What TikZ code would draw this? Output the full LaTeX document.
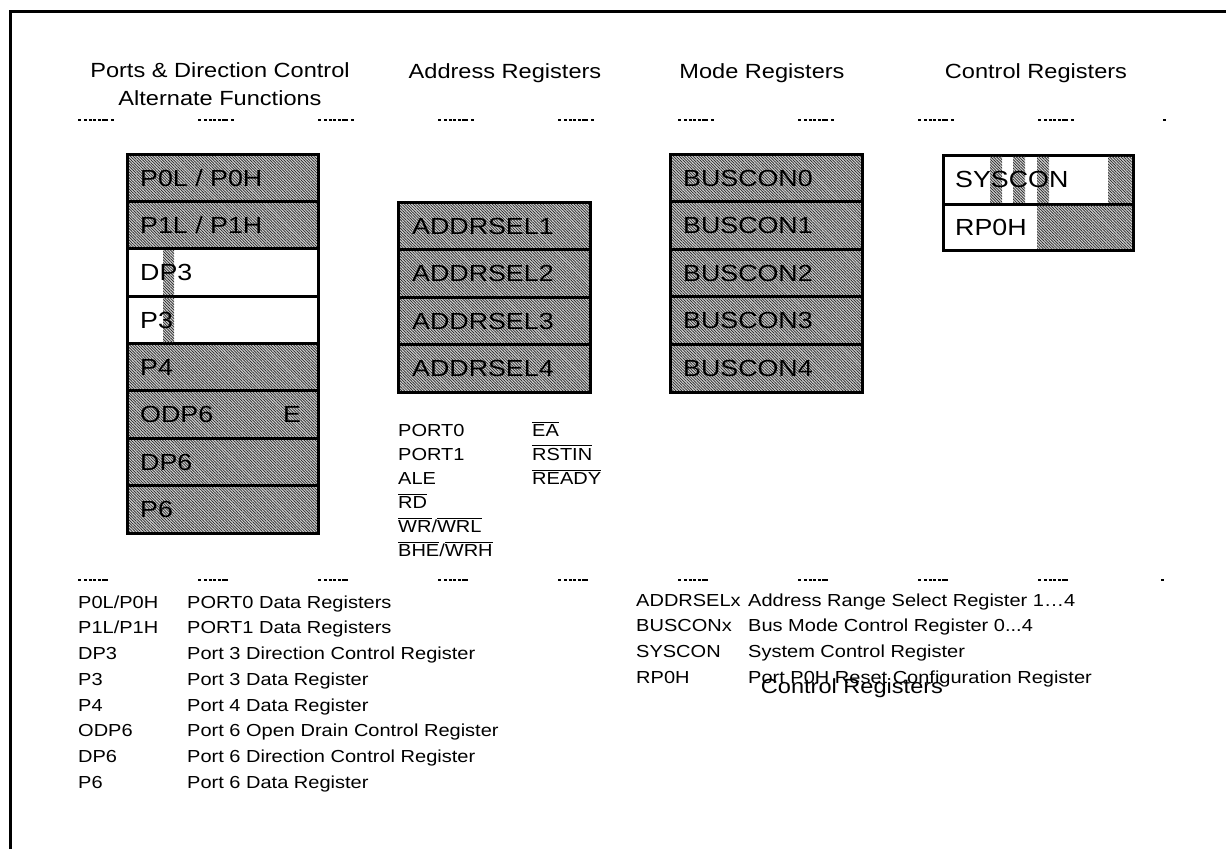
\documentclass[tikz,border=0pt]{standalone}
\usepackage{fontspec}
\setmainfont{Liberation Sans}[FakeStretch=1.15]
\usetikzlibrary{patterns.meta}
\newcommand\ovl[1]{\leavevmode\vbox{\hrule height 0.9pt\kern 1.6pt\hbox{#1}}}
\newcommand\hdfont{\fontsize{20.5pt}{24pt}\selectfont}
\newcommand\bxfont{\fontsize{23.3pt}{28pt}\selectfont}
\newcommand\lgfont{\fontsize{17.4pt}{21pt}\selectfont}
\tikzset{
  cell/.style={draw, line width=3pt, inner sep=0pt, fill=white},
  hatch/.style={preaction={fill=gray!35}, pattern={Lines[angle=-45,distance=2pt,line width=0.7pt]}, pattern color=black!85},
  hatchfill/.style={preaction={fill=gray!35}, pattern={Lines[angle=-45,distance=2pt,line width=0.7pt]}, pattern color=black!85},
  head/.style={font=\hdfont, anchor=base, inner sep=0pt},
  btxt/.style={font=\bxfont, anchor=base west, inner sep=0pt},
  ltxt/.style={font=\lgfont, anchor=base west, inner sep=0pt},
  tickmark/.style={line width=2pt, dash pattern=on 3pt off 3pt on 3pt off 1.5pt on 3pt off 1.5pt on 3pt off 1.5pt on 3pt off 1.5pt on 6pt},
}
\begin{document}
\begin{tikzpicture}[x=1pt,y=-1pt]
\useasboundingbox (0,0) rectangle (1226,849);
\fill[white] (0,0) rectangle (1226,849);
% frame
\draw[line width=3pt] (10,849) -- (10,11) -- (1226,11);

% headers
\node[head] (h1) at (220,77) {Ports \& Direction Control};
\node[head] (h1b) at (220,105) {Alternate Functions};
\node[head] (h2) at (505,78) {Address Registers};
\node[head] (h3) at (762,78) {Mode Registers};
\node[head] (h4) at (1036,78) {Control Registers};

% tick rows
\foreach \x in {78,198,318,438,558,678,798,918,1038}{
  \draw[tickmark] (\x,120) -- ++(37,0);
  \draw[tickmark] (\x,580) -- ++(30,0);
}
\draw[line width=2pt] (1163,120) -- ++(3,0);
\draw[line width=2pt] (1161,580) -- ++(3,0);

% ports stack
\node[cell, hatch, minimum width=191pt, minimum height=47.4pt] (p0) at (222.5,177.7) {};
\node[cell, hatch, minimum width=191pt, minimum height=47.4pt] (p1) at (222.5,225.1) {};
\node[cell, minimum width=191pt, minimum height=47.4pt] (dp3) at (222.5,272.4) {};
\node[cell, minimum width=191pt, minimum height=47.4pt] (p3) at (222.5,319.8) {};
\node[cell, hatch, minimum width=191pt, minimum height=47.4pt] (p4) at (222.5,367.2) {};
\node[cell, hatch, minimum width=191pt, minimum height=47.4pt] (odp6) at (222.5,414.6) {};
\node[cell, hatch, minimum width=191pt, minimum height=47.4pt] (dp6) at (222.5,461.9) {};
\node[cell, hatch, minimum width=191pt, minimum height=47.4pt] (p6) at (222.5,509.3) {};
\fill[hatchfill] (163,250.2) rectangle (174,294.6);
\fill[hatchfill] (163,297.6) rectangle (174,342);
\node[btxt] (tp0) at (140,186) {P0L / P0H};
\node[btxt] (tp1) at (140,233.4) {P1L / P1H};
\node[btxt] (tdp3) at (140,280.7) {DP3};
\node[btxt] (tp3) at (140,328.1) {P3};
\node[btxt] (tp4) at (140,375.5) {P4};
\node[btxt] (todp6) at (140,422.9) {ODP6};
\node[btxt] (te) at (283,422.9) {E};
\node[btxt] (tdp6) at (140,470.2) {DP6};
\node[btxt] (tp6) at (140,517.6) {P6};

% address registers
\node[cell, hatch, minimum width=192pt, minimum height=47.5pt] (a1) at (494,225.75) {};
\node[cell, hatch, minimum width=192pt, minimum height=47.5pt] (a2) at (494,273.25) {};
\node[cell, hatch, minimum width=192pt, minimum height=47.5pt] (a3) at (494,320.75) {};
\node[cell, hatch, minimum width=192pt, minimum height=47.5pt] (a4) at (494,368.25) {};
\node[btxt] (ta1) at (412,234) {ADDRSEL1};
\node[btxt] (ta2) at (412,281.5) {ADDRSEL2};
\node[btxt] (ta3) at (412,329) {ADDRSEL3};
\node[btxt] (ta4) at (412,376.5) {ADDRSEL4};

% pin list
\node[ltxt] (s1) at (398,436) {PORT0};
\node[ltxt] (s2) at (398,460) {PORT1};
\node[ltxt] (s3) at (398,484) {ALE};
\node[ltxt] (s4) at (398,508) {\ovl{RD}};
\node[ltxt] (s5) at (398,532) {\ovl{WR}/\ovl{WRL}};
\node[ltxt] (s6) at (398,556) {\ovl{BHE}/\ovl{WRH}};
\node[ltxt] (s7) at (532,436) {\ovl{EA}};
\node[ltxt] (s8) at (532,460) {\ovl{RSTIN}};
\node[ltxt] (s9) at (532,484) {\ovl{READY}};

% mode registers
\node[cell, hatch, minimum width=192pt, minimum height=47.6pt] (b0) at (766,177.8) {};
\node[cell, hatch, minimum width=192pt, minimum height=47.6pt] (b1) at (766,225.4) {};
\node[cell, hatch, minimum width=192pt, minimum height=47.6pt] (b2) at (766,273) {};
\node[cell, hatch, minimum width=192pt, minimum height=47.6pt] (b3) at (766,320.6) {};
\node[cell, hatch, minimum width=192pt, minimum height=47.6pt] (b4) at (766,368.2) {};
\node[btxt] (tb0) at (683,186.1) {BUSCON0};
\node[btxt] (tb1) at (683,233.7) {BUSCON1};
\node[btxt] (tb2) at (683,281.3) {BUSCON2};
\node[btxt] (tb3) at (683,328.9) {BUSCON3};
\node[btxt] (tb4) at (683,376.5) {BUSCON4};

% control registers
\node[cell, minimum width=190pt, minimum height=49pt] (sys) at (1038,179.5) {};
\node[cell, minimum width=190pt, minimum height=46pt] (rp) at (1038,227) {};
\fill[hatchfill] (990,156.5) rectangle (1002,202.5);
\fill[hatchfill] (1013,156.5) rectangle (1025,202.5);
\fill[hatchfill] (1037,156.5) rectangle (1049,202.5);
\fill[hatchfill] (1108,156.5) rectangle (1131.5,202.5);
\fill[hatchfill] (1037,205.5) rectangle (1131.5,248.5);
\node[btxt] (tsys) at (955,187.8) {SYSCON};
\node[btxt] (trp) at (955,235.3) {RP0H};

% legend left
\node[ltxt] (l1) at (78,608.2) {P0L/P0H};
\node[ltxt] (l2) at (78,633.9) {P1L/P1H};
\node[ltxt] (l3) at (78,659.6) {DP3};
\node[ltxt] (l4) at (78,685.3) {P3};
\node[ltxt] (l5) at (78,711) {P4};
\node[ltxt] (l6) at (78,736.7) {ODP6};
\node[ltxt] (l7) at (78,762.4) {DP6};
\node[ltxt] (l8) at (78,788.1) {P6};
\node[ltxt] (d1) at (187,608.2) {PORT0 Data Registers};
\node[ltxt] (d2) at (187,633.9) {PORT1 Data Registers};
\node[ltxt] (d3) at (187,659.6) {Port 3 Direction Control Register};
\node[ltxt] (d4) at (187,685.3) {Port 3 Data Register};
\node[ltxt] (d5) at (187,711) {Port 4 Data Register};
\node[ltxt] (d6) at (187,736.7) {Port 6 Open Drain Control Register};
\node[ltxt] (d7) at (187,762.4) {Port 6 Direction Control Register};
\node[ltxt] (d8) at (187,788.1) {Port 6 Data Register};

% legend right
\node[ltxt] (r1) at (636,606.2) {ADDRSELx};
\node[ltxt] (r2) at (636,631.9) {BUSCONx};
\node[ltxt] (r3) at (636,657.6) {SYSCON};
\node[ltxt] (r4) at (636,683.3) {RP0H};
\node[ltxt] (e1) at (748,606.2) {Address Range Select Register 1\ldots4};
\node[ltxt] (e2) at (748,631.9) {Bus Mode Control Register 0...4};
\node[ltxt] (e3) at (748,657.6) {System Control Register};
\node[ltxt] (e4) at (748,683.3) {Port P0H Reset Configuration Register};
\node[head] (stray) at (852,693) {Control Registers};
\end{tikzpicture}
\end{document}
